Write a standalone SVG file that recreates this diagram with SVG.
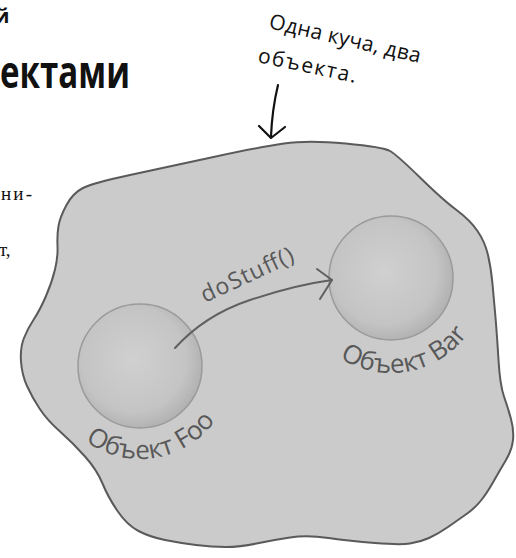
<svg xmlns="http://www.w3.org/2000/svg" width="516" height="558" viewBox="0 0 516 558">
<style>
.hand{font-family:"Open Sans","DejaVu Sans",sans-serif;}
.lbl{fill:#585858;font-size:26px;}
.conn{fill:none;stroke:#606060;stroke-width:2;stroke-linecap:round;stroke-linejoin:round;}
.note-arrow{fill:none;stroke:#111;stroke-width:2.2;stroke-linecap:round;stroke-linejoin:round;}
.obj{fill:url(#ball);stroke:#9a9a9a;stroke-width:1.5;}
.serif{font-family:"Liberation Serif","DejaVu Serif",serif;fill:#111;}
</style>
<defs>
<radialGradient id="ball" cx="0.45" cy="0.45" r="0.6">
<stop offset="0" stop-color="#d0d0d0"/>
<stop offset="0.7" stop-color="#c4c4c4"/>
<stop offset="1" stop-color="#adadad"/>
</radialGradient>
<path id="fooArc" d="M80.2,437.2 A93,93 0 0 0 224.3,405.3"/>
<path id="barArc" d="M332.5,352.9 A95,95 0 0 0 477.1,318.1"/>
</defs>
<rect width="516" height="558" fill="#fff"/>

<g id="page-text">
<text x="-5" y="23" font-family="'Open Sans','DejaVu Sans',sans-serif" font-weight="bold" font-size="20" fill="#111">й</text>
<text x="0" y="88" font-family="'Open Sans','DejaVu Sans',sans-serif" font-weight="bold" font-size="44" fill="#111" textLength="130" lengthAdjust="spacingAndGlyphs">ектами</text>
<text class="serif" x="1" y="200" font-size="19" textLength="31">ни-</text>
<text class="serif" x="-1" y="256" font-size="19">т,</text>
</g>

<g id="heap">
<path d="M58.5,226 Q60,217 66.5,205 Q73,193 83,188 Q93,183 130,175 Q167,167 213.5,157 Q260,147 284,143.5 Q308,140 345.5,143.5 Q383,147 390,151 Q397,155 420,177.5 Q443,200 456.5,210 Q470,220 477.5,231 Q485,242 488,255 Q491,268 492.5,284 Q494,300 495.5,317.5 Q497,335 498.5,360 Q500,385 504,396.5 Q508,408 511,419 Q514,430 513,440 Q512,450 506,460 Q500,470 493.5,481.5 Q487,493 481,500.5 Q475,508 466.5,514 Q458,520 448,527 Q438,534 429,538 Q420,542 410,543.5 Q400,545 375,543 Q350,541 328.5,538 Q307,535 290,537.5 Q273,540 256.5,543.5 Q240,547 226,547 Q212,547 196,545 Q180,543 165,540 Q150,537 138.5,531 Q127,525 117.5,511 Q108,497 102.5,483.5 Q97,470 85,456.5 Q73,443 60,431.5 Q47,420 39.5,408.5 Q32,397 27,386 Q22,375 21,361.5 Q20,348 24,338 Q28,328 34,319 Q40,310 46,296 Q52,282 55,269.5 Q58,257 57.5,246 Q57,235 58.5,226 Z" fill="#cbcbcb" stroke="#5a5a5a" stroke-width="2"/>
</g>

<g id="node-foo">
<circle class="obj" cx="140" cy="366" r="62"/>
<text class="hand lbl"><textPath href="#fooArc" startOffset="6.5" textLength="146">Объект Foo</textPath></text>
</g>

<g id="node-bar">
<circle class="obj" cx="391" cy="278" r="62"/>
<text class="hand lbl"><textPath href="#barArc" startOffset="8.8" textLength="143">Объект Bar</textPath></text>
</g>

<g id="connectors">
<path class="conn" d="M175,348 Q205,315 250,300 T332,280"/>
<path class="conn" d="M317,269 L332,280 L320,299"/>
<text class="hand" fill="#585858" font-size="23" transform="translate(205,303) rotate(-25)" textLength="100">doStuff()</text>
</g>

<g id="note">
<text class="hand" fill="#111" font-size="21" transform="translate(268,28) rotate(13)" textLength="155">Одна куча, два</text>
<text class="hand" fill="#111" font-size="21" transform="translate(257,62) rotate(12)" textLength="100">объекта.</text>
<path class="note-arrow" d="M278,85 Q272,110 271,137"/>
<path class="note-arrow" d="M259,126 L271,138 L285,127"/>
</g>
</svg>
